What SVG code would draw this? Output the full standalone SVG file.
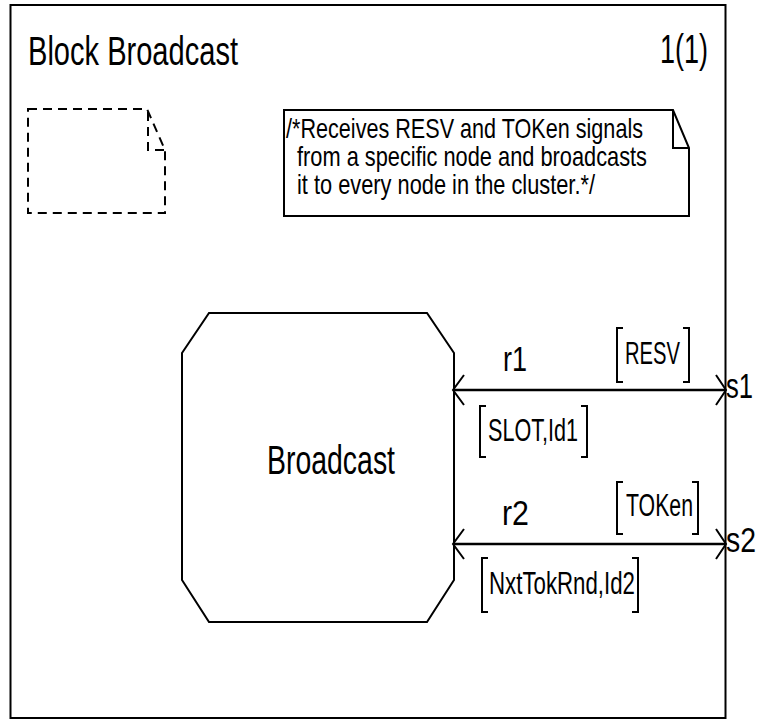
<svg xmlns="http://www.w3.org/2000/svg" width="764" height="725" viewBox="0 0 764 725">
<style>
text{font-family:"Liberation Sans Narrow","Liberation Sans",Arial,sans-serif;fill:#000}
.ln{fill:none;stroke:#000;stroke-width:2}
.br{fill:none;stroke:#000;stroke-width:2}
.dash{fill:none;stroke:#000;stroke-width:2;stroke-dasharray:9,6}
.lbl{font-size:31px}
.port{font-size:35px}
.cm{font-size:28px}
</style>
<rect width="764" height="725" fill="#fff"/>
<g id="frame">
<rect x="10.5" y="5" width="715" height="713" class="ln" stroke-width="2.5"/>
<text x="28" y="65" font-size="40" textLength="210" lengthAdjust="spacingAndGlyphs">Block Broadcast</text>
<text x="660" y="63" font-size="40" textLength="48" lengthAdjust="spacingAndGlyphs">1(1)</text>
</g>
<g id="textsymbol">
<path class="dash" d="M28,109 H147 L165,150 V213 H28 Z"/>
<path class="dash" d="M148,112 V150 H165"/>
</g>
<g id="comment">
<path class="ln" d="M284,110 H673 L689,148 V216 H284 Z M673,110 V148 H689"/>
<text class="cm" x="286" y="138" textLength="357" lengthAdjust="spacingAndGlyphs">/*Receives RESV and TOKen signals</text>
<text class="cm" x="297" y="166" textLength="350" lengthAdjust="spacingAndGlyphs">from a specific node and broadcasts</text>
<text class="cm" x="297" y="194" textLength="298" lengthAdjust="spacingAndGlyphs">it to every node in the cluster.*/</text>
</g>
<g id="Broadcast">
<polygon class="ln" points="209,313 427,313 454,353 454,580 427,622 209,622 182,580 182,353"/>
<text x="267" y="474" font-size="40" textLength="128" lengthAdjust="spacingAndGlyphs">Broadcast</text>
</g>
<g id="connectors">
<g id="r1">
<path d="M453,390 H726" stroke="#000" stroke-width="2.5" fill="none"/>
<path class="ln" d="M464,375 L453,390 L464,405"/>
<path class="ln" d="M716,375 L726,390 L716,405"/>
<text class="port" x="503" y="371" textLength="24" lengthAdjust="spacingAndGlyphs">r1</text>
<path class="br" d="M623,328 H617 V382 H623 M683,328 H689 V382 H683"/>
<text class="lbl" x="625" y="364" textLength="55" lengthAdjust="spacingAndGlyphs">RESV</text>
<path class="br" d="M486,406 H480 V457 H486 M581,406 H587 V457 H581"/>
<text class="lbl" x="488" y="441" textLength="90" lengthAdjust="spacingAndGlyphs">SLOT,Id1</text>
<text class="port" x="726" y="398" textLength="27" lengthAdjust="spacingAndGlyphs">s1</text>
</g>
<g id="r2">
<path d="M453,544 H726" stroke="#000" stroke-width="2.5" fill="none"/>
<path class="ln" d="M464,529 L453,544 L464,559"/>
<path class="ln" d="M716,529 L726,544 L716,559"/>
<text class="port" x="502" y="525" textLength="27" lengthAdjust="spacingAndGlyphs">r2</text>
<path class="br" d="M623,482 H617 V534 H623 M692,482 H698 V534 H692"/>
<text class="lbl" x="626" y="516" textLength="67" lengthAdjust="spacingAndGlyphs">TOKen</text>
<path class="br" d="M488,558 H482 V612 H488 M632,558 H638 V612 H632"/>
<text class="lbl" x="489" y="594" textLength="146" lengthAdjust="spacingAndGlyphs">NxtTokRnd,Id2</text>
<text class="port" x="726" y="552" textLength="30" lengthAdjust="spacingAndGlyphs">s2</text>
</g>
</g>
</svg>
